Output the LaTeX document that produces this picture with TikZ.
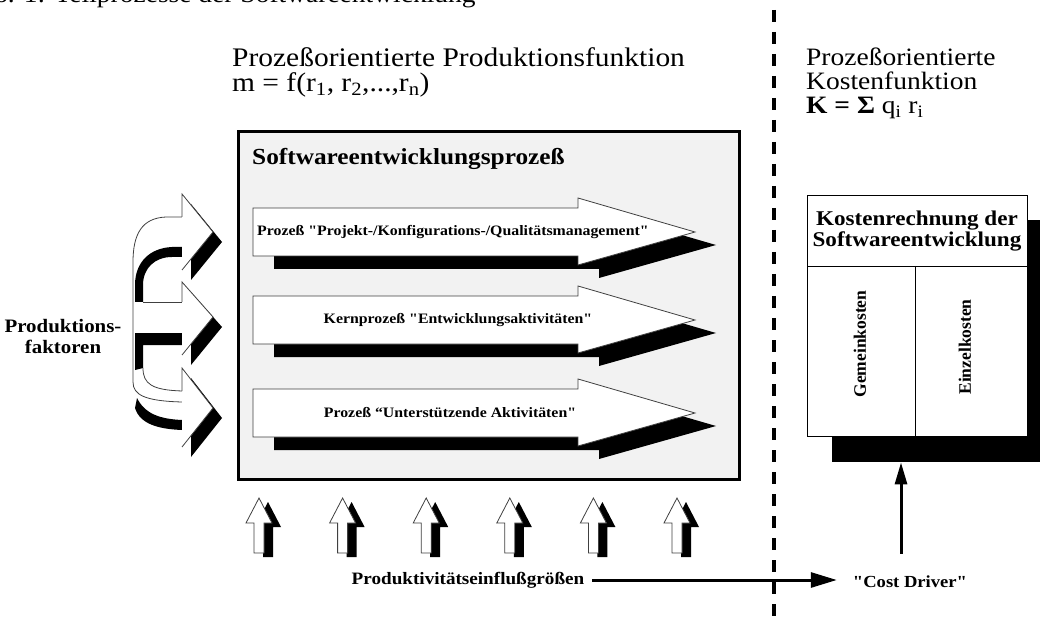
\documentclass[tikz,border=0pt]{standalone}
\usepackage{fontspec}
\newfontfamily\rmx{Liberation Serif}[FakeStretch=1.1]
\newfontfamily\rmn{Liberation Serif}
\usetikzlibrary{arrows.meta}
\definecolor{boxgray}{RGB}{242,242,242}
\tikzset{
  outl/.style={draw=black!75, line width=0.8pt},
  hdr/.style={inner sep=0pt, anchor=base west, font=\rmx\fontsize{26.8}{26}\selectfont},
  hdrr/.style={inner sep=0pt, anchor=base west, font=\rmx\fontsize{25}{24}\selectfont},
  plbl/.style={inner sep=0pt, font=\rmx\bfseries\fontsize{14.4}{16}\selectfont},
  bld/.style={inner sep=0pt, font=\rmx\bfseries},
  dashline/.style={line width=4pt, dash pattern=on 12pt off 10pt, dash phase=12pt},
  conn/.style={line width=3pt},
}
\newcommand\ProcArrow[1]{%
  \begin{scope}[shift={(0,#1)}]
    \fill[black] (274,-11) -- (599,-11) -- (599,-21) -- (716,13) -- (599,46) -- (599,37) -- (274,37) -- cycle;
    \filldraw[fill=white, outl] (253,-24) -- (578,-24) -- (578,-34) -- (695,0) -- (578,33) -- (578,24) -- (253,24) -- cycle;
  \end{scope}}
\newcommand\UpArrow[1]{%
  \begin{scope}[shift={(#1,498)}]
    \fill[black] (9,4) -- (22,29) -- (14,29) -- (14,59) -- (4,59) -- (4,29) -- (-4,29) -- cycle;
    \filldraw[fill=white, outl] (0,0) -- (13,25) -- (5,25) -- (5,55) -- (-5,55) -- (-5,25) -- (-13,25) -- cycle;
  \end{scope}}
\begin{document}
\begin{tikzpicture}[x=1pt,y=-1pt]
\useasboundingbox (0,0) rectangle (1044,620);

% caption (cut at top)
\node[inner sep=0pt, anchor=base west, font=\rmx\fontsize{25}{26}\selectfont] (cap) at (-6,3) {6. 1: Teilprozesse der Softwareentwicklung};

% headers
\node[hdr] (h1) at (232,67) {Prozeßorientierte Produktionsfunktion};
\node[hdr] (h2) at (232,92) {m = f(r\textsubscript{1}, r\textsubscript{2},...,r\textsubscript{n})};
\node[hdrr] (k1) at (806,66) {Prozeßorientierte};
\node[hdrr] (k2) at (806,90) {Kostenfunktion};
\node[hdrr] (k3) at (806,114) {\textbf{K = Σ} q\textsubscript{i} r\textsubscript{i}};

% dashed separator
\coordinate (dtop) at (774,0);
\coordinate (dbot) at (774,620);
\draw[dashline] (dtop) -- (dbot);

% big process box
\node[draw, line width=3pt, fill=boxgray, minimum width=501pt, minimum height=348pt, anchor=north west, inner sep=0pt] (sbox) at (237,130) {};
\node[bld, anchor=base west, font=\rmx\bfseries\fontsize{23}{24}\selectfont] (stitle) at (252,165) {Softwareentwicklungsprozeß};

\ProcArrow{232}
\ProcArrow{320}
\ProcArrow{413}
\node[plbl, anchor=west] (p1) at (257,232) {Prozeß "Projekt-/Konfigurations-/Qualitätsmanagement"};
\node[plbl] (p2) at (458,320) {Kernprozeß "Entwicklungsaktivitäten"};
\node[plbl] (p3) at (450,413) {Prozeß “Unterstützende Aktivitäten"};

% left curved arrows (Produktionsfaktoren)
\fill (182,247) -- (172,247) .. controls (150,248) and (135,262) .. (135,285) -- (135,302) -- (143,302) -- (143,285) .. controls (143,268) and (155,257) .. (172,257) -- (182,257) -- cycle;
\fill (135,333) -- (182,333) -- (182,345) -- (143,345) -- (143,368) -- (135,370) -- cycle;
\fill (137,398) .. controls (145,414) and (160,419) .. (182,420) -- (182,430) .. controls (158,429) and (140,424) .. (135,408) -- cycle;
\draw[outl] (182,217) -- (166,217) .. controls (142,218) and (133,234) .. (133,262) -- (133,382) .. controls (133,395) and (145,401) .. (182,402);
\draw[outl] (143,368) .. controls (143,384) and (152,390) .. (182,391);
\draw[outl] (143,302) -- (182,302);
\foreach \t/\p/\b/\s in {194/232/270/217, 282/317/355/302, 368/408/447/391} {
  \fill (191,\t+10) -- (222,\p+10) -- (191,\b+10) -- cycle;
  \fill[white] (182,\t) -- (213,\p) -- (182,\b) -- cycle;
  \draw[outl] (182,\s) -- (182,\t) -- (213,\p) -- (182,\b);
}
\node[bld, align=center, font=\rmx\bfseries\fontsize{19}{21}\selectfont] (pf) at (63,337) {Produktions-\\faktoren};

% cost accounting box
\node[fill=black, minimum width=208pt, minimum height=242pt, anchor=north west, inner sep=0pt] (ksh) at (832,220) {};
\node[draw, line width=0.8pt, fill=white, minimum width=220pt, minimum height=241pt, anchor=north west, inner sep=0pt] (kbox) at (807,195) {};
\draw[line width=0.8pt] (kbox.west |- 0,266) -- (kbox.east |- 0,266);
\draw[line width=0.8pt] (915,266) -- (kbox.south -| 915,0);
\node[bld, align=center, font=\rmx\bfseries\fontsize{21}{21}\selectfont] (ktitle) at (917,231) {Kostenrechnung der\\Softwareentwicklung};
\node[inner sep=0pt, rotate=90, font=\rmn\bfseries\fontsize{17.5}{18}\selectfont] (gk) at (860,344) {Gemeinkosten};
\node[inner sep=0pt, rotate=90, font=\rmn\bfseries\fontsize{17.5}{18}\selectfont] (ek) at (965,347) {Einzelkosten};

% bottom influence arrows
\foreach \x in {259,342.6,426.2,509.8,593.4,677} { \UpArrow{\x} }

\node[bld, font=\rmx\bfseries\fontsize{17.4}{18}\selectfont] (pe) at (468,580) {Produktivitätseinflußgrößen};
\node[bld, font=\rmx\bfseries\fontsize{16.9}{18}\selectfont] (cd) at (910,582) {"Cost Driver"};
\draw[conn, -{Triangle[length=26pt,width=15pt]}, shorten <=8pt, shorten >=16pt] (pe.east) -- (cd.west |- pe.east);
\draw[conn, -{Triangle[length=22pt,width=12pt]}, shorten <=22pt] ([xshift=-9pt]cd.north) -- ([xshift=-9pt]cd.north |- ksh.south);
\end{tikzpicture}
\end{document}
